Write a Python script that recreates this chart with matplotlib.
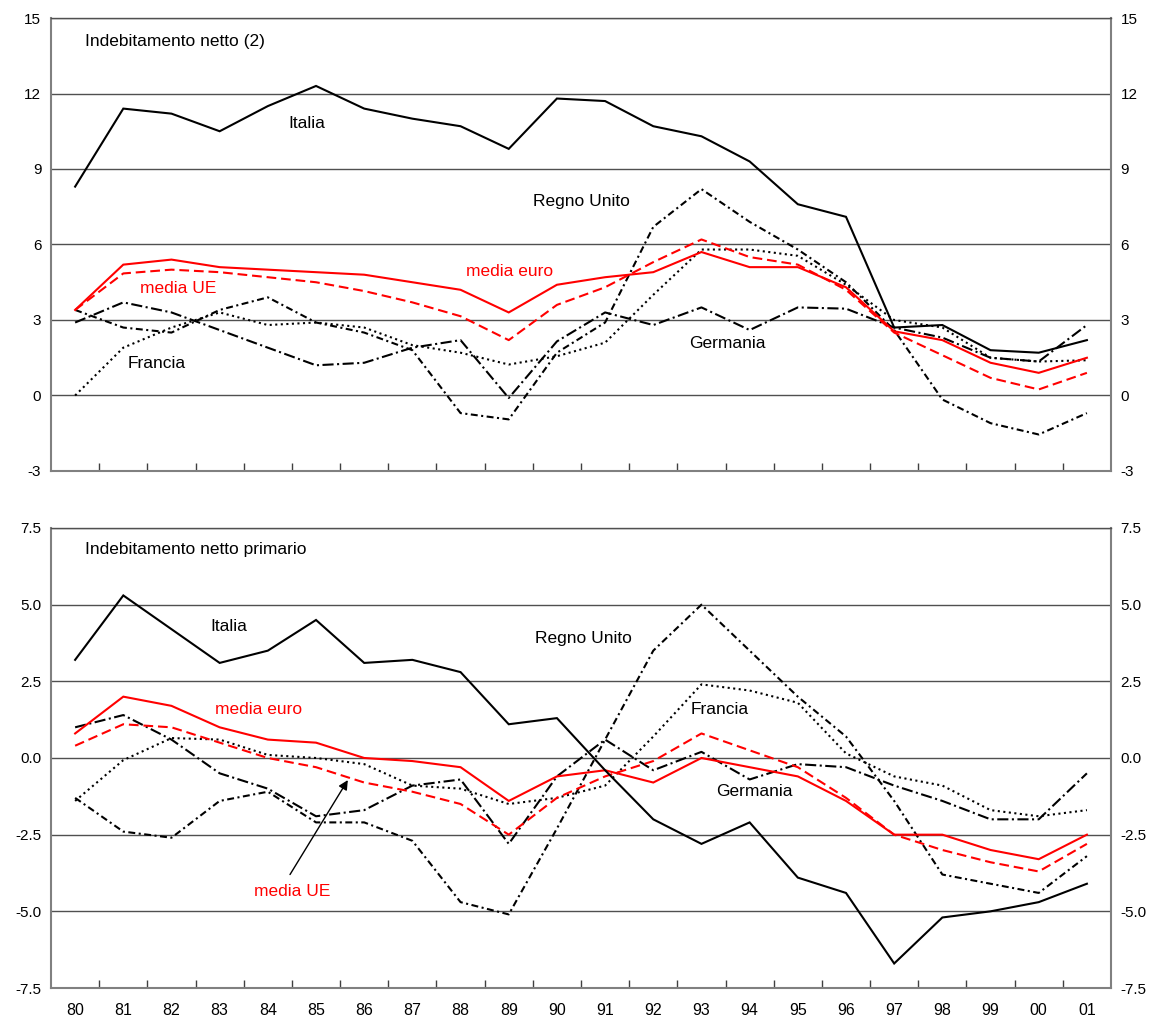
import matplotlib
matplotlib.use("Agg")
import matplotlib.pyplot as plt
from matplotlib.ticker import FixedLocator, FuncFormatter

plt.rcParams['font.family'] = ['Liberation Sans', 'DejaVu Sans']
plt.rcParams['lines.scale_dashes'] = False

years = ["80", "81", "82", "83", "84", "85", "86", "87", "88", "89", "90",
         "91", "92", "93", "94", "95", "96", "97", "98", "99", "00", "01"]

# Indebitamento netto (2)
net_italia = [8.3, 11.4, 11.2, 10.5, 11.5, 12.3, 11.4, 11.0, 10.7, 9.8, 11.8,
              11.7, 10.7, 10.3, 9.3, 7.6, 7.1, 2.7, 2.8, 1.8, 1.7, 2.2]
net_euro = [3.4, 5.2, 5.4, 5.1, 5.0, 4.9, 4.8, 4.5, 4.2, 3.3, 4.4,
            4.7, 4.9, 5.7, 5.1, 5.1, 4.3, 2.55, 2.2, 1.3, 0.9, 1.5]
net_ue = [3.4, 4.85, 5.0, 4.9, 4.7, 4.5, 4.15, 3.7, 3.15, 2.2, 3.6,
          4.3, 5.3, 6.2, 5.5, 5.2, 4.2, 2.5, 1.6, 0.7, 0.24, 0.9]
net_germania = [2.9, 3.7, 3.3, 2.6, 1.9, 1.2, 1.3, 1.9, 2.2, -0.1, 2.15,
                3.3, 2.8, 3.5, 2.6, 3.5, 3.45, 2.7, 2.3, 1.5, 1.35, 2.8]
net_regno_unito = [3.4, 2.7, 2.5, 3.4, 3.9, 2.9, 2.5, 1.8, -0.7, -0.95, 1.7,
                   2.9, 6.7, 8.2, 6.9, 5.8, 4.5, 2.6, -0.16, -1.1, -1.55, -0.7]
net_francia = [0.0, 1.9, 2.7, 3.3, 2.8, 2.9, 2.7, 2.0, 1.7, 1.23, 1.56,
               2.1, 4.0, 5.8, 5.8, 5.55, 4.4, 3.0, 2.7, 1.5, 1.35, 1.4]

# Indebitamento netto primario
pri_italia = [3.2, 5.3, 4.2, 3.1, 3.5, 4.5, 3.1, 3.2, 2.8, 1.1, 1.3,
              -0.4, -2.0, -2.8, -2.1, -3.9, -4.4, -6.7, -5.2, -5.0, -4.7, -4.1]
pri_euro = [0.8, 2.0, 1.7, 1.0, 0.6, 0.5, 0.0, -0.1, -0.3, -1.4, -0.6,
            -0.4, -0.8, 0.0, -0.3, -0.6, -1.4, -2.5, -2.5, -3.0, -3.3, -2.5]
pri_ue = [0.4, 1.1, 1.0, 0.5, 0.0, -0.3, -0.8, -1.1, -1.5, -2.5, -1.3,
          -0.6, -0.1, 0.8, 0.25, -0.3, -1.3, -2.5, -3.0, -3.4, -3.7, -2.8]
pri_germania = [1.0, 1.4, 0.6, -0.5, -1.0, -1.9, -1.7, -0.9, -0.7, -2.8, -0.6,
                0.6, -0.4, 0.2, -0.7, -0.2, -0.3, -0.9, -1.4, -2.0, -2.0, -0.5]
pri_regno_unito = [-1.3, -2.4, -2.6, -1.4, -1.1, -2.1, -2.1, -2.7, -4.7, -5.1, -2.3,
                   0.6, 3.5, 5.0, 3.5, 2.0, 0.7, -1.4, -3.8, -4.1, -4.4, -3.2]
pri_francia = [-1.4, -0.07, 0.65, 0.6, 0.1, 0.0, -0.2, -0.9, -1.0, -1.5, -1.3,
               -0.9, 0.7, 2.4, 2.2, 1.8, 0.15, -0.6, -0.9, -1.7, -1.9, -1.7]

top_ticks = [15, 12, 9, 6, 3, 0, -3]
bot_ticks = [7.5, 5.0, 2.5, 0.0, -2.5, -5.0, -7.5]

RED = '#ff0000'
styles = {
    'italia': dict(color='black', lw=1.5, ls='-'),
    'euro': dict(color=RED, lw=1.5, ls='-'),
    'ue': dict(color=RED, lw=1.5, ls=(0, (7, 3.5))),
    'germania': dict(color='black', lw=1.5, ls=(0, (8, 2.5, 1.5, 2.5))),
    'uk': dict(color='black', lw=1.5, ls=(0, (5, 2.5, 1.5, 2.5))),
    'francia': dict(color='black', lw=1.5, ls=(0, (1.5, 2.5))),
}

fig = plt.figure(figsize=(11.52, 10.23), dpi=100)
ax1 = fig.add_axes([0.0443, 0.5396, 0.9201, 0.4428])
ax2 = fig.add_axes([0.0443, 0.0342, 0.9201, 0.4497])

x = list(range(len(years)))


def setup(ax, ticks, fmt, show_labels):
    ax.set_xlim(-0.5, len(years) - 0.5)
    ax.set_ylim(min(ticks), max(ticks))
    ax.set_yticks(ticks)
    ax.yaxis.set_major_formatter(FuncFormatter(fmt))
    ax.tick_params(axis='y', length=0, labelsize=11, pad=7,
                   left=True, right=True, labelleft=True, labelright=True)
    ax.set_xticks(x)
    if show_labels:
        ax.set_xticklabels(years)
    else:
        ax.set_xticklabels([])
    ax.tick_params(axis='x', which='major', length=0, labelsize=11.5, pad=11)
    ax.xaxis.set_minor_locator(FixedLocator([i + 0.5 for i in range(len(years) - 1)]))
    ax.tick_params(axis='x', which='minor', direction='in', length=6,
                   width=1, color='#404040')
    for t in ticks:
        ax.axhline(t, color='#505050', lw=1.0, zorder=1)
    for s in ax.spines.values():
        s.set_color('#808080')
        s.set_linewidth(1.5)
    ax.spines['top'].set_color('#505050')
    ax.spines['top'].set_linewidth(1.0)


setup(ax1, top_ticks, lambda v, p: f"{int(v)}", False)
setup(ax2, bot_ticks, lambda v, p: f"{v:.1f}", True)

for ax, data in [
    (ax1, [(net_francia, 'francia'), (net_regno_unito, 'uk'), (net_germania, 'germania'),
           (net_ue, 'ue'), (net_euro, 'euro'), (net_italia, 'italia')]),
    (ax2, [(pri_francia, 'francia'), (pri_regno_unito, 'uk'), (pri_germania, 'germania'),
           (pri_ue, 'ue'), (pri_euro, 'euro'), (pri_italia, 'italia')]),
]:
    for vals, key in data:
        ax.plot(x, vals, zorder=3, solid_joinstyle='miter', **styles[key])

fs = 12.5
# top labels
ax1.text(0.21, 14.07, "Indebitamento netto (2)", fontsize=fs, va='center', ha='left')
ax1.text(4.81, 10.8, "Italia", fontsize=fs, va='center', ha='center')
ax1.text(10.5, 7.7, "Regno Unito", fontsize=fs, va='center', ha='center')
ax1.text(9.02, 4.93, "media euro", fontsize=fs, va='center', ha='center', color=RED)
ax1.text(2.14, 4.25, "media UE", fontsize=fs, va='center', ha='center', color=RED)
ax1.text(1.7, 1.27, "Francia", fontsize=fs, va='center', ha='center')
ax1.text(13.53, 2.07, "Germania", fontsize=fs, va='center', ha='center')

# bottom labels
ax2.text(0.21, 6.81, "Indebitamento netto primario", fontsize=fs, va='center', ha='left')
ax2.text(3.2, 4.3, "Italia", fontsize=fs, va='center', ha='center')
ax2.text(10.54, 3.9, "Regno Unito", fontsize=fs, va='center', ha='center')
ax2.text(3.8, 1.57, "media euro", fontsize=fs, va='center', ha='center', color=RED)
ax2.text(13.38, 1.57, "Francia", fontsize=fs, va='center', ha='center')
ax2.text(14.1, -1.1, "Germania", fontsize=fs, va='center', ha='center')
ax2.text(4.5, -4.34, "media UE", fontsize=fs, va='center', ha='center', color=RED)
ax2.annotate("", xy=(5.66, -0.72), xytext=(4.46, -3.8),
             arrowprops=dict(arrowstyle='-|>', color='black', lw=1.0,
                             mutation_scale=14, shrinkA=0, shrinkB=0))

fig.savefig("out.png", dpi=100)
